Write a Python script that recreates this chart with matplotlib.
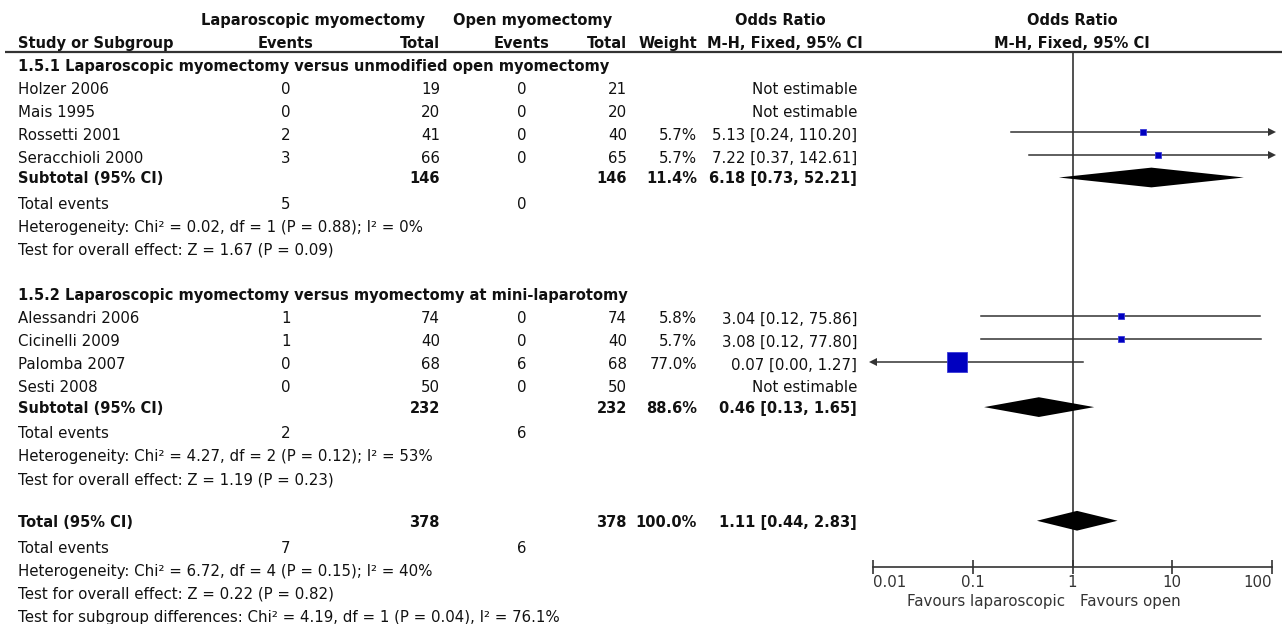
import numpy as np
import matplotlib
matplotlib.use('Agg')
import matplotlib.pyplot as plt

# studies
study = ['Holzer 2006', 'Mais 1995', 'Rossetti 2001', 'Seracchioli 2000',
         'Alessandri 2006', 'Cicinelli 2009', 'Palomba 2007', 'Sesti 2008']
group = [0, 0, 0, 0, 1, 1, 1, 1]
lap_events = [0, 0, 2, 3, 1, 1, 0, 0]
lap_total = [19, 20, 41, 66, 74, 40, 68, 50]
open_events = [0, 0, 0, 0, 0, 0, 6, 0]
open_total = [21, 20, 40, 65, 74, 40, 68, 50]
weight = [np.nan, np.nan, 5.7, 5.7, 5.8, 5.7, 77.0, np.nan]
or_est = [np.nan, np.nan, 5.13, 7.22, 3.04, 3.08, 0.07, np.nan]
or_lo = [np.nan, np.nan, 0.24, 0.37, 0.12, 0.12, 0.00, np.nan]
or_hi = [np.nan, np.nan, 110.20, 142.61, 75.86, 77.80, 1.27, np.nan]

# subgroups
sub_name = ['1.5.1 Laparoscopic myomectomy versus unmodified open myomectomy',
            '1.5.2 Laparoscopic myomectomy versus myomectomy at mini-laparotomy']
sub_lap_total = [146, 232]
sub_open_total = [146, 232]
sub_lap_events = [5, 2]
sub_open_events = [0, 6]
sub_weight = [11.4, 88.6]
sub_or = [6.18, 0.46]
sub_lo = [0.73, 0.13]
sub_hi = [52.21, 1.65]
sub_het = ['Heterogeneity: Chi² = 0.02, df = 1 (P = 0.88); I² = 0%',
           'Heterogeneity: Chi² = 4.27, df = 2 (P = 0.12); I² = 53%']
sub_z = ['Test for overall effect: Z = 1.67 (P = 0.09)',
         'Test for overall effect: Z = 1.19 (P = 0.23)']

# overall
tot_lap_total = 378
tot_open_total = 378
tot_lap_events = 7
tot_open_events = 6
tot_weight = 100.0
tot_or = 1.11
tot_lo = 0.44
tot_hi = 2.83
tot_het = 'Heterogeneity: Chi² = 6.72, df = 4 (P = 0.15); I² = 40%'
tot_z = 'Test for overall effect: Z = 0.22 (P = 0.82)'
tot_sub = 'Test for subgroup differences: Chi² = 4.19, df = 1 (P = 0.04), I² = 76.1%'

axis_ticks = [0.01, 0.1, 1, 10, 100]
axis_labels = ['0.01', '0.1', '1', '10', '100']

W, H = 1282, 624
Y0, DY = 65, 22.96   # pixel y of first row, row height


def ry(px):
    return (px - Y0) / DY


FS = 10.8
FSB = 10.5
INK = '#111111'
GREY = '#333333'
plt.rcParams['font.family'] = ['DejaVu Sans']

fig = plt.figure(figsize=(W / 100, H / 100), dpi=100)
tab = fig.add_axes([0, 0, 1, 1])
tab.set_xlim(0, W)
tab.set_ylim(ry(H), ry(0))
tab.axis('off')

fx0, fx1, fy0, fy1 = 873, 1272, 52, 567
fax = fig.add_axes([fx0 / W, (H - fy1) / H, (fx1 - fx0) / W, (fy1 - fy0) / H])
fax.set_xscale('log')
fax.set_xlim(0.01, 100)
fax.set_ylim(ry(fy1), ry(fy0))
fax.patch.set_alpha(0)

# column positions (pixels)
X_NAME, X_LE, X_LT, X_OE, X_OT, X_W, X_CI = 18, 286, 440, 522, 627, 697, 857
DT = 0.06   # small downward nudge for text


def put(x, r, s, ha='left', bold=False):
    tab.text(x, r + DT, s, ha=ha, va='center', fontsize=FSB if bold else FS,
             color=INK, fontweight='bold' if bold else 'normal')


def ci_text(e, lo, hi):
    return f'{e:.2f} [{lo:.2f}, {hi:.2f}]'


# header
put(313, -2, 'Laparoscopic myomectomy', 'center', True)
put(533, -2, 'Open myomectomy', 'center', True)
put(780, -2, 'Odds Ratio', 'center', True)
put(1072, -2, 'Odds Ratio', 'center', True)
put(X_NAME, -1, 'Study or Subgroup', bold=True)
put(X_LE, -1, 'Events', 'center', True)
put(X_LT, -1, 'Total', 'right', True)
put(X_OE, -1, 'Events', 'center', True)
put(X_OT, -1, 'Total', 'right', True)
put(X_W, -1, 'Weight', 'right', True)
put(785, -1, 'M-H, Fixed, 95% CI', 'center', True)
put(1072, -1, 'M-H, Fixed, 95% CI', 'center', True)
tab.plot([5, W], [ry(52), ry(52)], color=GREY, lw=1.6, solid_capstyle='butt')

max_w = np.nanmax(weight)
lo_lim, hi_lim = fax.get_xlim()


def draw_ci(r, e, lo, hi, w):
    a = max(lo, lo_lim)
    b = min(hi, hi_lim)
    fax.plot([a, b], [r, r], color=GREY, lw=1.1, zorder=2)
    # arrow heads where the interval runs off the scale
    if lo < lo_lim:
        fax.plot(lo_lim, r, marker='<', ms=6, color=GREY, mew=0, zorder=3,
                 clip_on=False)
    if hi > hi_lim:
        fax.plot(hi_lim, r, marker='>', ms=6, color=GREY, mew=0, zorder=3,
                 clip_on=False)
    side = 20.5 * np.sqrt(w / max_w) * 0.72
    fax.plot(e, r, marker='s', ms=side, color='#0000c0', mec='#3a3ad8',
             mew=0.6, zorder=4)


def draw_diamond(r, e, lo, hi):
    h = 0.43
    fax.fill([lo, e, hi, e], [r, r - h, r, r + h], color='black', lw=0, zorder=4)


row = 0
for g in range(2):
    put(X_NAME, row, sub_name[g], bold=True)
    row += 1
    for i in range(len(study)):
        if group[i] != g:
            continue
        put(X_NAME, row, study[i])
        put(X_LE, row, str(lap_events[i]), 'center')
        put(X_LT, row, str(lap_total[i]), 'right')
        put(X_OE, row, str(open_events[i]), 'center')
        put(X_OT, row, str(open_total[i]), 'right')
        if np.isnan(or_est[i]):
            put(X_CI, row, 'Not estimable', 'right')
        else:
            put(X_W, row, f'{weight[i]:.1f}%', 'right')
            put(X_CI, row, ci_text(or_est[i], or_lo[i], or_hi[i]), 'right')
            draw_ci(row - 0.08, or_est[i], or_lo[i], or_hi[i], weight[i])
        row += 1
    rs = row - 0.1
    put(X_NAME, rs, 'Subtotal (95% CI)', bold=True)
    put(X_LT, rs, str(sub_lap_total[g]), 'right', True)
    put(X_OT, rs, str(sub_open_total[g]), 'right', True)
    put(X_W, rs, f'{sub_weight[g]:.1f}%', 'right', True)
    put(X_CI, rs, ci_text(sub_or[g], sub_lo[g], sub_hi[g]), 'right', True)
    draw_diamond(row - 0.1, sub_or[g], sub_lo[g], sub_hi[g])
    row += 1
    put(X_NAME, row, 'Total events')
    put(X_LE, row, str(sub_lap_events[g]), 'center')
    put(X_OE, row, str(sub_open_events[g]), 'center')
    row += 1
    put(X_NAME, row, sub_het[g])
    row += 1
    put(X_NAME, row, sub_z[g])
    row += 2

rs = row - 0.15
put(X_NAME, rs, 'Total (95% CI)', bold=True)
put(X_LT, rs, str(tot_lap_total), 'right', True)
put(X_OT, rs, str(tot_open_total), 'right', True)
put(X_W, rs, f'{tot_weight:.1f}%', 'right', True)
put(X_CI, rs, ci_text(tot_or, tot_lo, tot_hi), 'right', True)
draw_diamond(row - 0.15, tot_or, tot_lo, tot_hi)
row += 1
put(X_NAME, row, 'Total events')
put(X_LE, row, str(tot_lap_events), 'center')
put(X_OE, row, str(tot_open_events), 'center')
row += 1
put(X_NAME, row, tot_het)
row += 1
put(X_NAME, row, tot_z)
row += 1
put(X_NAME, row, tot_sub)

# forest axis
fax.axvline(1, color=GREY, lw=1.2, zorder=1)
for s in ['left', 'right', 'top']:
    fax.spines[s].set_visible(False)
fax.spines['bottom'].set_color(GREY)
fax.spines['bottom'].set_linewidth(1.2)
fax.set_yticks([])
fax.minorticks_off()
fax.set_xticks(axis_ticks)
fax.set_xticklabels(axis_labels)
fax.tick_params(axis='x', direction='inout', length=10, width=1.2, color=GREY,
                labelsize=FS, labelcolor=GREY, pad=1)
labs = fax.get_xticklabels()
labs[0].set_ha('left')
labs[-1].set_ha('right')

tab.text(1065, ry(602), 'Favours laparoscopic', ha='right', va='center',
         fontsize=FS, color=GREY)
tab.text(1080, ry(602), 'Favours open', ha='left', va='center',
         fontsize=FS, color=GREY)

fig.savefig('out.png', dpi=100, facecolor='white')
